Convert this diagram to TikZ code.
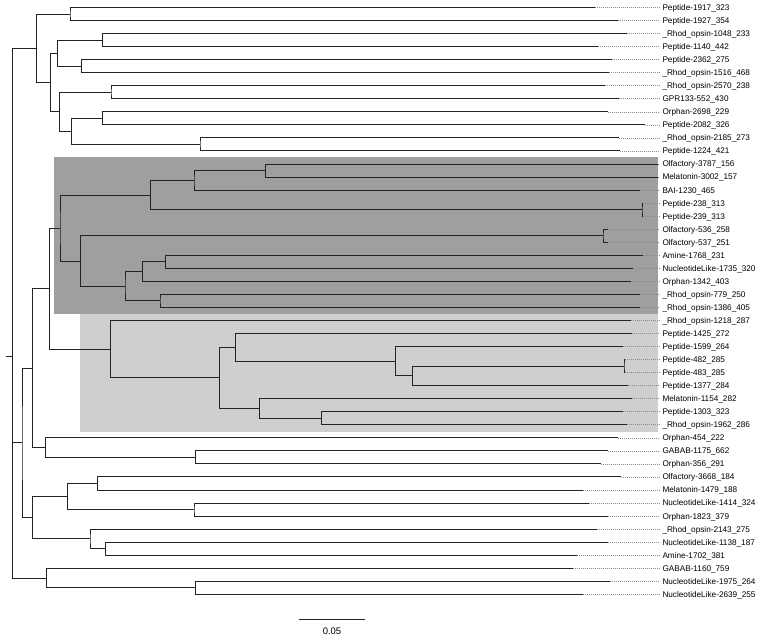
\documentclass[tikz,border=0pt]{standalone}
\usepackage{fontspec}
\setmainfont{Liberation Sans}
\usepackage{xcolor}
\usepackage{tikz}
\definecolor{cladedark}{RGB}{159,159,159}
\definecolor{cladelight}{RGB}{207,207,207}
\definecolor{treeline}{RGB}{35,35,35}
\tikzset{
  branch/.style={draw=treeline,line width=0.9pt},
  leaf/.style={anchor=west,inner sep=2.3pt,text height=5.9pt,text depth=0pt},
  dots/.style={draw=black!45,line width=0.6pt,dash pattern=on 0.7pt off 1.3pt},
}

\begin{document}
\begin{tikzpicture}[x=1pt,y=-13.04pt,font=\fontsize{8.2}{9.8}\selectfont]
\useasboundingbox (0,0.425) rectangle (757,49.43);
\clip (0,0.425) rectangle (757,49.43);
\fill[cladedark] (54.3,12.49) rectangle (658,24.53);
\fill[cladelight] (80,24.53) rectangle (658,33.53);
\foreach \i/\tx/\lab in {
    1/595/Peptide-1917\_323, 2/618/Peptide-1927\_354,
    3/627/\_Rhod\_opsin-1048\_233, 4/598/Peptide-1140\_442,
    5/612/Peptide-2362\_275, 6/609/\_Rhod\_opsin-1516\_468,
    7/605/\_Rhod\_opsin-2570\_238, 8/619/GPR133-552\_430,
    9/608/Orphan-2698\_229, 10/645/Peptide-2082\_326,
    11/619/\_Rhod\_opsin-2185\_273, 12/620/Peptide-1224\_421,
    13/658/Olfactory-3787\_156, 14/658/Melatonin-3002\_157,
    15/640/BAI-1230\_465, 16/643/Peptide-238\_313,
    17/643/Peptide-239\_313, 18/608/Olfactory-536\_258,
    19/608/Olfactory-537\_251, 20/643/Amine-1768\_231,
    21/633/NucleotideLike-1735\_320, 22/631/Orphan-1342\_403,
    23/640/\_Rhod\_opsin-779\_250, 24/640/\_Rhod\_opsin-1386\_405,
    25/631/\_Rhod\_opsin-1218\_287, 26/632/Peptide-1425\_272,
    27/623/Peptide-1599\_264, 28/625/Peptide-482\_285,
    29/625/Peptide-483\_285, 30/628/Peptide-1377\_284,
    31/632/Melatonin-1154\_282, 32/623/Peptide-1303\_323,
    33/627/\_Rhod\_opsin-1962\_286, 34/618/Orphan-454\_222,
    35/608/GABAB-1175\_662, 36/601/Orphan-356\_291,
    37/621/Olfactory-3668\_184, 38/583/Melatonin-1479\_188,
    39/589/NucleotideLike-1414\_324, 40/608/Orphan-1823\_379,
    41/597/\_Rhod\_opsin-2143\_275, 42/608/NucleotideLike-1138\_187,
    43/577/Amine-1702\_381, 44/573/GABAB-1160\_759,
    45/610/NucleotideLike-1975\_264, 46/583/NucleotideLike-2639\_255} {
    \coordinate (t\i) at (\tx,\i);
    \node[leaf] (n\i) at (660,\i) {\lab};
    \draw[dots] (t\i) -- (n\i.west);
}
\coordinate (a12) at (70,1.5);
\coordinate (a34) at (102.7,3.5);
\coordinate (a56) at (81.7,5.5);
\coordinate (a36) at (57.7,4.5);
\coordinate (a78) at (111,7.5);
\coordinate (a910) at (102.7,9.5);
\coordinate (a1112) at (200,11.5);
\coordinate (a912) at (71.7,10.5);
\coordinate (a712) at (59.3,9);
\coordinate (a312) at (50.7,6.75);
\coordinate (atop) at (36.7,4.125);
\coordinate (d1314) at (265.7,13.5);
\coordinate (d1315) at (194,14.25);
\coordinate (d1617) at (642,16.5);
\coordinate (d1317) at (150.7,15.375);
\coordinate (d1819) at (603,18.5);
\coordinate (d2021) at (165.7,20.5);
\coordinate (d2022) at (142.7,21.25);
\coordinate (d2324) at (160,23.5);
\coordinate (d2024) at (125,22.375);
\coordinate (d1824) at (80.7,20.4375);
\coordinate (dark) at (60,17.906);
\coordinate (l2829) at (624,28.5);
\coordinate (l2830) at (412.7,29.25);
\coordinate (l2730) at (395.7,28.125);
\coordinate (l2630) at (235.7,27.0625);
\coordinate (l3233) at (321.7,32.5);
\coordinate (l3133) at (259.3,31.75);
\coordinate (l2633) at (219.3,29.406);
\coordinate (light) at (110.3,27.203);
\coordinate (g1333) at (49.3,22.555);
\coordinate (b3536) at (195.7,35.5);
\coordinate (b3436) at (45.7,34.75);
\coordinate (m1336) at (32.3,28.65);
\coordinate (c3738) at (97.7,37.5);
\coordinate (c3940) at (194,39.5);
\coordinate (c3740) at (67.3,38.5);
\coordinate (c4243) at (105.7,42.5);
\coordinate (c4143) at (90,41.75);
\coordinate (c3743) at (32.3,40.125);
\coordinate (mid) at (22,34.39);
\coordinate (e4546) at (195.7,45.5);
\coordinate (e4446) at (46.7,44.75);
\coordinate (root) at (12.7,27.755);
\coordinate (stub) at (6,27.755);
\draw[branch] (t1) -| (a12) |- (t2);
\draw[branch] (t3) -| (a34) |- (t4);
\draw[branch] (t5) -| (a56) |- (t6);
\draw[branch] (a34) -| (a36) |- (a56);
\draw[branch] (t7) -| (a78) |- (t8);
\draw[branch] (t9) -| (a910) |- (t10);
\draw[branch] (t11) -| (a1112) |- (t12);
\draw[branch] (a910) -| (a912) |- (a1112);
\draw[branch] (a78) -| (a712) |- (a912);
\draw[branch] (a36) -| (a312) |- (a712);
\draw[branch] (a12) -| (atop) |- (a312);
\draw[branch] (t13) -| (d1314) |- (t14);
\draw[branch] (d1314) -| (d1315) |- (t15);
\draw[branch] (t16) -| (d1617) |- (t17);
\draw[branch] (d1315) -| (d1317) |- (d1617);
\draw[branch] (t18) -| (d1819) |- (t19);
\draw[branch] (t20) -| (d2021) |- (t21);
\draw[branch] (d2021) -| (d2022) |- (t22);
\draw[branch] (t23) -| (d2324) |- (t24);
\draw[branch] (d2022) -| (d2024) |- (d2324);
\draw[branch] (d1819) -| (d1824) |- (d2024);
\draw[branch] (d1317) -| (dark) |- (d1824);
\draw[branch] (t28) -| (l2829) |- (t29);
\draw[branch] (l2829) -| (l2830) |- (t30);
\draw[branch] (t27) -| (l2730) |- (l2830);
\draw[branch] (t26) -| (l2630) |- (l2730);
\draw[branch] (t32) -| (l3233) |- (t33);
\draw[branch] (t31) -| (l3133) |- (l3233);
\draw[branch] (l2630) -| (l2633) |- (l3133);
\draw[branch] (t25) -| (light) |- (l2633);
\draw[branch] (dark) -| (g1333) |- (light);
\draw[branch] (t35) -| (b3536) |- (t36);
\draw[branch] (t34) -| (b3436) |- (b3536);
\draw[branch] (g1333) -| (m1336) |- (b3436);
\draw[branch] (t37) -| (c3738) |- (t38);
\draw[branch] (t39) -| (c3940) |- (t40);
\draw[branch] (c3738) -| (c3740) |- (c3940);
\draw[branch] (t42) -| (c4243) |- (t43);
\draw[branch] (t41) -| (c4143) |- (c4243);
\draw[branch] (c3740) -| (c3743) |- (c4143);
\draw[branch] (m1336) -| (mid) |- (c3743);
\draw[branch] (t45) -| (e4546) |- (t46);
\draw[branch] (t44) -| (e4446) |- (e4546);
\draw[branch] (atop) -| (root) |- (e4446);
\draw[branch] (root) |- (mid);
\draw[branch] (stub) -- (root);
\coordinate (sbl) at (299,47.89);
\coordinate (sbr) at (365,47.89);
\draw[branch] (sbl) -- (sbr);
\node[font=\fontsize{9.5}{11}\selectfont] (sblab) at (332,48.85) {0.05};
\end{tikzpicture}
\end{document}
